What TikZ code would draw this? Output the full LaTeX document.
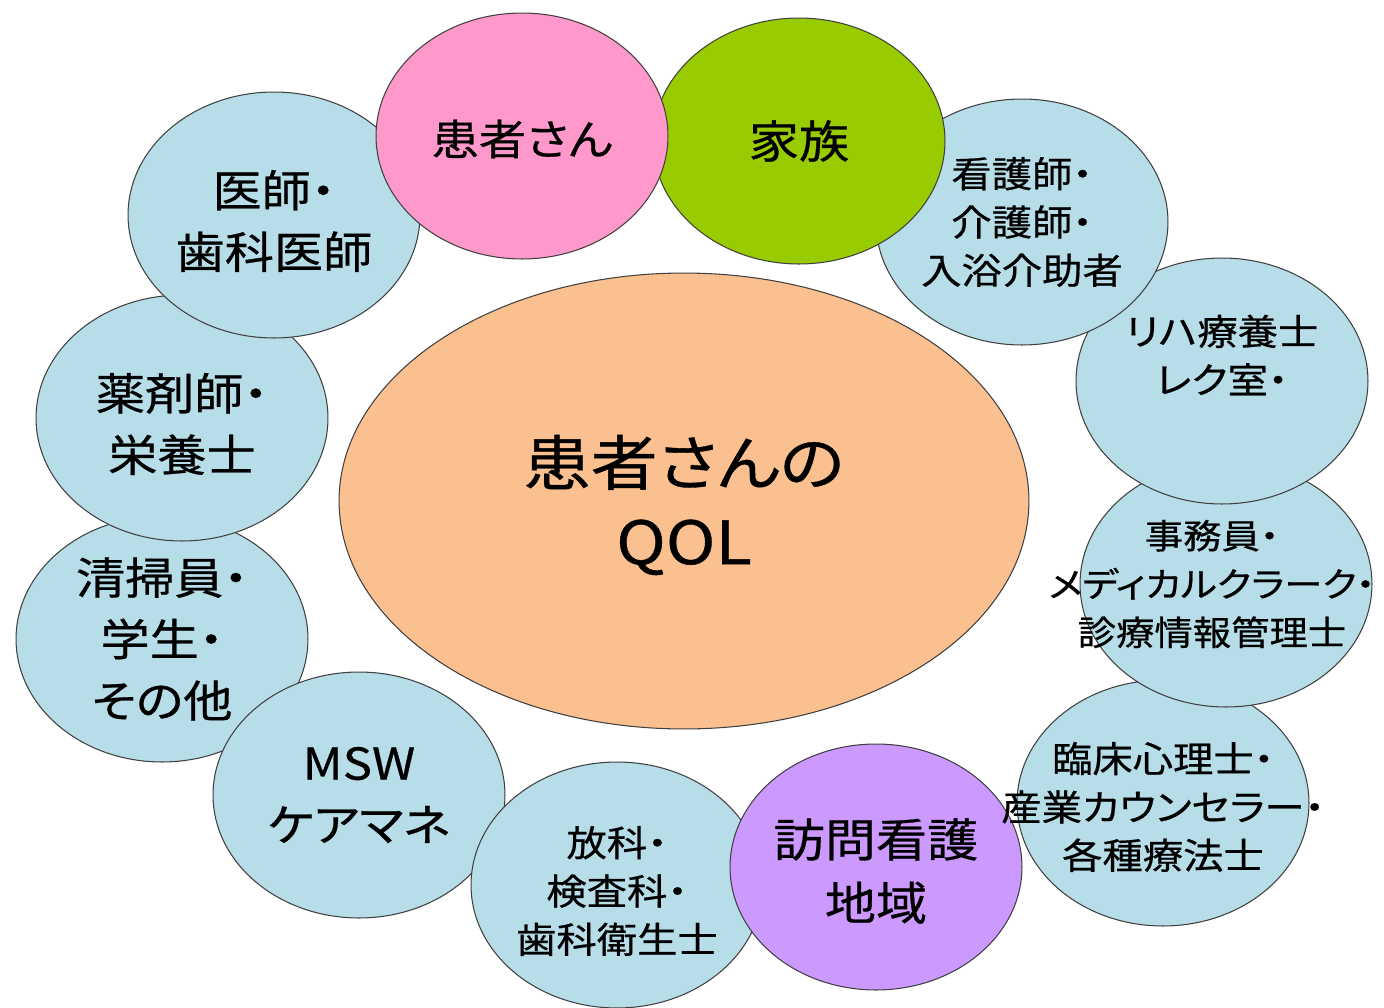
\documentclass[tikz,border=0pt]{standalone}
\usepackage{fontspec}
\setmainfont{Noto Sans CJK JP}[FakeStretch=1.12,FakeBold=0.6,RawFeature=+palt]
\usetikzlibrary{calc,shapes.geometric}
\definecolor{qolorange}{HTML}{FAC090}
\definecolor{staffblue}{HTML}{B7DDE8}
\definecolor{patientpink}{HTML}{FF99CC}
\definecolor{familygreen}{HTML}{99CC00}
\definecolor{visitpurple}{HTML}{CC99FF}
\tikzset{
	circ/.style={ellipse, draw=black!75, line width=0.6pt, inner sep=0pt, minimum width=5.84cm, minimum height=4.92cm},
	staff/.style={circ, fill=staffblue},
	bigtext/.style={align=center, font=\fontsize{25}{35}\selectfont},
	smalltext/.style={align=center, font=\fontsize{20.5}{27.5}\selectfont}
}

\begin{document}
\begin{tikzpicture}[x=0.02cm, y=-0.02cm]
		%%%%% START %%%%%
		\useasboundingbox[fill=white] (0,0) rectangle (1384,1008);
		
		\node[ellipse, draw=black!75, line width=0.6pt, fill=qolorange, minimum width=13.8cm, minimum height=9.12cm] (qol) at (684,501) {};
		
		\node[staff] (cleaner) at (162,639) {};
		\node[staff] (pharma) at (182,418) {};
		\node[staff] (doctor) at (274,215) {};
		\node[staff] (msw) at (359,795) {};
		\node[staff] (radio) at (617,885) {};
		\node[staff] (psych) at (1163,803) {};
		\node[staff] (clerk) at (1226,584) {};
		\node[staff] (rehab) at (1222,381) {};
		\node[staff] (nurse) at (1022,222) {};
		
		\node[circ, fill=visitpurple] (visit) at (876,867) {};
		\node[circ, fill=familygreen] (family) at (799,141) {};
		\node[circ, fill=patientpink] (patient) at (522,136) {};
		
		\node[align=center, font=\fontsize{34}{45}\selectfont] (qoltext) at ($(qol)+(0,4)$) {患者さんの\\QOL};
		\node[font=\fontsize{24}{30}\selectfont] (patienttext) at ($(patient)+(0,3)$) {患者さん};
		\node[font=\fontsize{25.5}{30}\selectfont] (familytext) at (family) {家族};
		\node[align=center, font=\fontsize{26}{36}\selectfont] (visittext) at ($(visit)+(0,4)$) {訪問看護\\地域};
		
		\node[bigtext] (doctortext) at ($(doctor)+(0,6)$) {医師・\\歯科医師};
		\node[bigtext] (pharmatext) at ($(pharma)+(0,6)$) {薬剤師・\\栄養士};
		\node[bigtext] (cleanertext) at (cleaner) {清掃員・\\学生・\\その他};
		\node[bigtext] (mswtext) at (msw) {MSW\\ケアマネ};
		
		\node[smalltext] (nursetext) at (nurse) {看護師・\\介護師・\\入浴介助者};
		\node[smalltext] (rehabtext) at ($(rehab)+(0,-26)$) {リハ療養士\\レク室・};
		\node[smalltext, inner sep=0pt, font=\fontsize{19.5}{27.5}\selectfont] (clerktext) at ($(clerk)+(-14,0)$) {事務員・\\メディカルクラーク・\\診療情報管理士};
		\node[smalltext] (psychtext) at ($(psych)+(0,4)$) {臨床心理士・\\産業カウンセラー・\\各種療法士};
		\node[smalltext] (radiotext) at ($(radio)+(0,6)$) {放科・\\検査科・\\歯科衛生士};
		%%%%% END %%%%%
\end{tikzpicture}
\end{document}
